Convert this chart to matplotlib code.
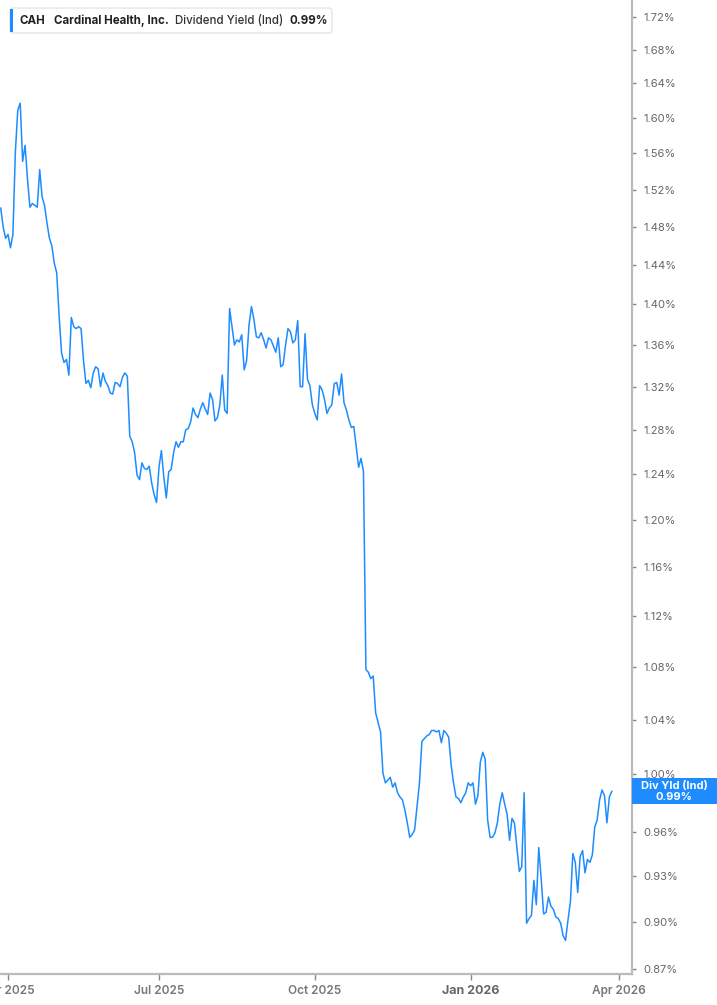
import matplotlib
matplotlib.use('Agg')
import matplotlib.pyplot as plt
from matplotlib.ticker import FixedLocator, FuncFormatter, NullLocator
from matplotlib.patches import FancyBboxPatch, Rectangle
import numpy as np
import pandas as pd

plt.rcParams['font.family'] = ['Inter', 'DejaVu Sans']

# ---- data (dividend yield, %, one value per trading day) ----
yield_q1 = [1.500, 1.480, 1.468, 1.472, 1.458, 1.472, 1.561, 1.609, 1.617,
            1.551, 1.569, 1.531, 1.501, 1.505, 1.503, 1.501, 1.542, 1.512, 1.503,
            1.484, 1.468, 1.460, 1.442, 1.432, 1.388, 1.352, 1.343, 1.346, 1.331,
            1.387, 1.378, 1.376, 1.378, 1.376, 1.345, 1.323, 1.326, 1.319, 1.333,
            1.339, 1.337, 1.320, 1.333, 1.325, 1.321, 1.314, 1.313, 1.324, 1.323,
            1.320, 1.329, 1.333, 1.330, 1.274, 1.269, 1.259, 1.239, 1.235, 1.250,
            1.245, 1.244, 1.247, 1.232, 1.222, 1.215, 1.246, 1.261, 1.237, 1.219,
            1.242]
yield_q2 = [1.244, 1.259, 1.269, 1.264, 1.269, 1.269, 1.280, 1.281, 1.287, 1.300,
            1.294, 1.291, 1.299, 1.305, 1.299, 1.294, 1.314, 1.308, 1.288, 1.291,
            1.303, 1.331, 1.298, 1.295, 1.396, 1.378, 1.360, 1.365, 1.363, 1.370,
            1.336, 1.345, 1.380, 1.398, 1.385, 1.368, 1.367, 1.372, 1.365, 1.357,
            1.367, 1.365, 1.359, 1.353, 1.367, 1.339, 1.341, 1.360, 1.376, 1.373,
            1.362, 1.365, 1.384, 1.320, 1.320, 1.371, 1.327, 1.321, 1.303, 1.295,
            1.289, 1.321, 1.317, 1.308, 1.295, 1.300, 1.303, 1.323, 1.324, 1.312,
            1.332, 1.305, 1.298, 1.289, 1.282, 1.283, 1.265, 1.246, 1.254, 1.242]
yield_q3 = [1.078, 1.076, 1.071, 1.073, 1.045, 1.038, 1.031, 1.001, 0.994, 0.996,
            0.998, 0.991, 0.994, 0.987, 0.984, 0.982, 0.975, 0.966, 0.956,
            0.958, 0.961, 0.977, 0.994, 1.024, 1.026, 1.028, 1.029, 1.032, 1.032,
            1.031, 1.032, 1.023, 1.032, 1.030, 1.027, 1.007, 0.994, 0.984, 0.983,
            0.980, 0.984, 0.987, 0.994, 0.992, 0.994, 0.979, 0.985, 1.009, 1.016,
            1.011]
yield_q4 = [0.968, 0.956, 0.956, 0.959, 0.966, 0.979, 0.987, 0.979, 0.972,
            0.954, 0.969, 0.966, 0.949, 0.933, 0.936, 0.987, 0.899, 0.902, 0.904,
            0.927, 0.911, 0.949, 0.928, 0.905, 0.906, 0.916, 0.910, 0.908, 0.903,
            0.902, 0.899, 0.891, 0.888, 0.901, 0.913, 0.945, 0.939, 0.919, 0.943,
            0.947, 0.932, 0.941, 0.939, 0.944, 0.963, 0.968, 0.982, 0.989, 0.985,
            0.966, 0.984, 0.988]
values = yield_q1 + yield_q2 + yield_q3 + yield_q4

start_date = '2025-03-27'
market_holidays = ['2025-04-18', '2025-05-26', '2025-06-19', '2025-07-04', '2025-09-01',
                   '2025-11-27', '2025-12-25', '2026-01-01', '2026-01-19', '2026-02-16']

y_ticks = [0.87, 0.90, 0.93, 0.96, 1.00, 1.04, 1.08, 1.12, 1.16, 1.20, 1.24, 1.28,
           1.32, 1.36, 1.40, 1.44, 1.48, 1.52, 1.56, 1.60, 1.64, 1.68, 1.72]
x_tick_dates = ['2025-04-01', '2025-07-01', '2025-10-01', '2026-01-01', '2026-04-01']
x_tick_labels = ['Apr 2025', 'Jul 2025', 'Oct 2025', 'Jan 2026', 'Apr 2026']

ticker = 'CAH'
company = 'Cardinal Health, Inc.'
metric = 'Dividend Yield (Ind)'
last_label = '0.99%'

# trading-day axis (chart spaces sessions evenly)
sessions = pd.bdate_range(start=start_date, periods=len(values) + 15, freq='C',
                          holidays=market_holidays)
x_idx = np.arange(len(values))
tick_pos = [int(sessions.searchsorted(pd.Timestamp(d))) for d in x_tick_dates]

BLUE = '#1e8cff'
W, H = 717, 1005

fig = plt.figure(figsize=(W / 100, H / 100), dpi=100)
ax = fig.add_axes([0, 31 / H, 632 / W, 974 / H])
ax.plot(x_idx, values, color=BLUE, lw=1.1, solid_joinstyle='round')

ax.set_yscale('log')
ax.set_ylim(0.8669, 1.741)
ax.set_xlim(-0.3, 259.3)

ax.yaxis.tick_right()
ax.yaxis.set_major_locator(FixedLocator(y_ticks))
ax.yaxis.set_minor_locator(NullLocator())
ax.yaxis.set_major_formatter(FuncFormatter(lambda v, p: f'{v:.2f}%'))
ax.tick_params(axis='y', which='major', direction='out', length=3, width=1,
               color='#888888', labelsize=8, labelcolor='#666666', pad=5)

ax.xaxis.set_major_locator(FixedLocator(tick_pos))
ax.xaxis.set_minor_locator(NullLocator())
ax.set_xticklabels(x_tick_labels)
ax.tick_params(axis='x', which='major', direction='out', length=4, width=1,
               color='#888888', labelsize=8.5, labelcolor='#777777', pad=4)
for lbl in ax.get_xticklabels():
    lbl.set_fontweight('semibold')
    if lbl.get_text().startswith('Jan'):
        lbl.set_fontweight('bold')
        lbl.set_color('#666666')
        lbl.set_fontsize(9)

for s in ['left', 'top']:
    ax.spines[s].set_visible(False)
for s in ['right', 'bottom']:
    ax.spines[s].set_color('#bbbbbb')
    ax.spines[s].set_linewidth(1.6)

# legend box top-left
def fx(px):
    return px / W

def fy(py):
    return 1 - py / H

box = FancyBboxPatch((fx(10), fy(33)), fx(332) - fx(10), fy(8) - fy(33),
                     boxstyle='round,pad=0,rounding_size=0.004', transform=fig.transFigure,
                     fc='white', ec='#e2e2e2', lw=0.9, zorder=5)
fig.patches.append(box)
bar = Rectangle((fx(10), fy(32)), fx(3), fy(9) - fy(32), transform=fig.transFigure,
                fc=BLUE, ec='none', zorder=6)
fig.patches.append(bar)
ty = fy(21)
fs = 8.3
fig.text(fx(20), ty, ticker, fontsize=fs, fontweight='bold', color='#222222', va='center', ha='left', zorder=7)
fig.text(fx(54), ty, company, fontsize=fs, fontweight='bold', color='#222222', va='center', ha='left', zorder=7)
fig.text(fx(175), ty, metric, fontsize=fs, fontweight='medium', color='#333333', va='center', ha='left', zorder=7)
fig.text(fx(290), ty, last_label, fontsize=fs, fontweight='bold', color='#222222', va='center', ha='left', zorder=7)

# right-side value label
lab = Rectangle((fx(632), fy(804)), fx(85), fy(778) - fy(804), transform=fig.transFigure,
                fc=BLUE, ec='none', zorder=6)
fig.patches.append(lab)
fig.text(fx(674), fy(785.5), 'Div Yld (Ind)', fontsize=8, fontweight='bold', color='white',
         va='center', ha='center', zorder=7)
fig.text(fx(674), fy(796.5), last_label, fontsize=8, fontweight='bold', color='white',
         va='center', ha='center', zorder=7)

fig.savefig('out.png', dpi=100, facecolor='white')
